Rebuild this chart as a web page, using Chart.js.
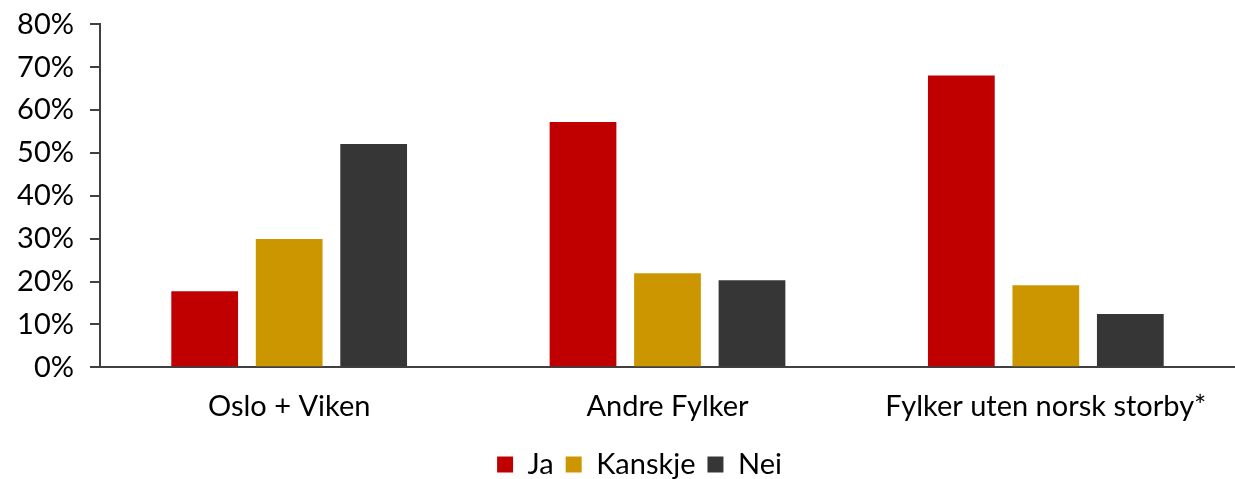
<!DOCTYPE html>
<html>
<head>
<meta charset="utf-8">
<script src="https://cdn.jsdelivr.net/npm/chart.js@4/dist/chart.umd.min.js"></script>
<style>
  html, body { margin: 0; padding: 0; background: #fff; overflow: hidden; }
  #wrap { width: 1235px; height: 498px; position: relative; top: -9px; }
</style>
</head>
<body>
<div id="wrap"><canvas id="chart"></canvas></div>
<script>
// --- Data ---
const categories = ['Oslo + Viken', 'Andre Fylker', 'Fylker uten norsk storby*'];
const ja = [17.7, 57.2, 68.1];
const kanskje = [29.9, 21.9, 19.1];
const nei = [52.1, 20.3, 12.4];
const yTicks = [0, 10, 20, 30, 40, 50, 60, 70, 80];

const axisColor = '#404040';
const font = { family: 'Lato, "Open Sans", sans-serif', size: 29 };

// legend sits a bit right of the canvas centre in the original
const shiftLegend = {
    id: 'shiftLegend',
    afterLayout(chart) {
        chart.legend.left += 22;
        chart.legend.right += 22;
    }
};

new Chart(document.getElementById('chart'), {
    type: 'bar',
    data: {
        labels: categories,
        datasets: [
            { label: 'Ja', data: ja, backgroundColor: '#C00000' },
            { label: 'Kanskje', data: kanskje, backgroundColor: '#CC9600' },
            { label: 'Nei', data: nei, backgroundColor: '#363636' }
        ]
    },
    plugins: [shiftLegend],
    options: {
        responsive: true,
        maintainAspectRatio: false,
        animation: false,
        layout: { padding: 0 },
        datasets: {
            bar: { barPercentage: 0.79, categoryPercentage: 0.67 }
        },
        plugins: {
            tooltip: { enabled: false },
            legend: {
                position: 'bottom',
                labels: {
                    color: '#000',
                    font: font,
                    boxWidth: 16,
                    boxHeight: 16,
                    padding: 12
                }
            }
        },
        scales: {
            x: {
                grid: { display: false },
                border: { display: true, color: axisColor, width: 2 },
                ticks: { color: '#000', font: font, padding: 14 }
            },
            y: {
                min: 0,
                max: 80,
                afterFit: (scale) => { scale.width = 100; },
                afterBuildTicks: (scale) => {
                    scale.ticks = yTicks.map(v => ({ value: v }));
                },
                grid: {
                    drawOnChartArea: false,
                    drawTicks: true,
                    tickLength: 10,
                    color: axisColor,
                    lineWidth: 2
                },
                border: { display: true, color: axisColor, width: 2 },
                ticks: {
                    color: '#000',
                    font: font,
                    padding: 16,
                    callback: (v) => v + '%'
                }
            }
        }
    }
});
</script>
</body>
</html>
